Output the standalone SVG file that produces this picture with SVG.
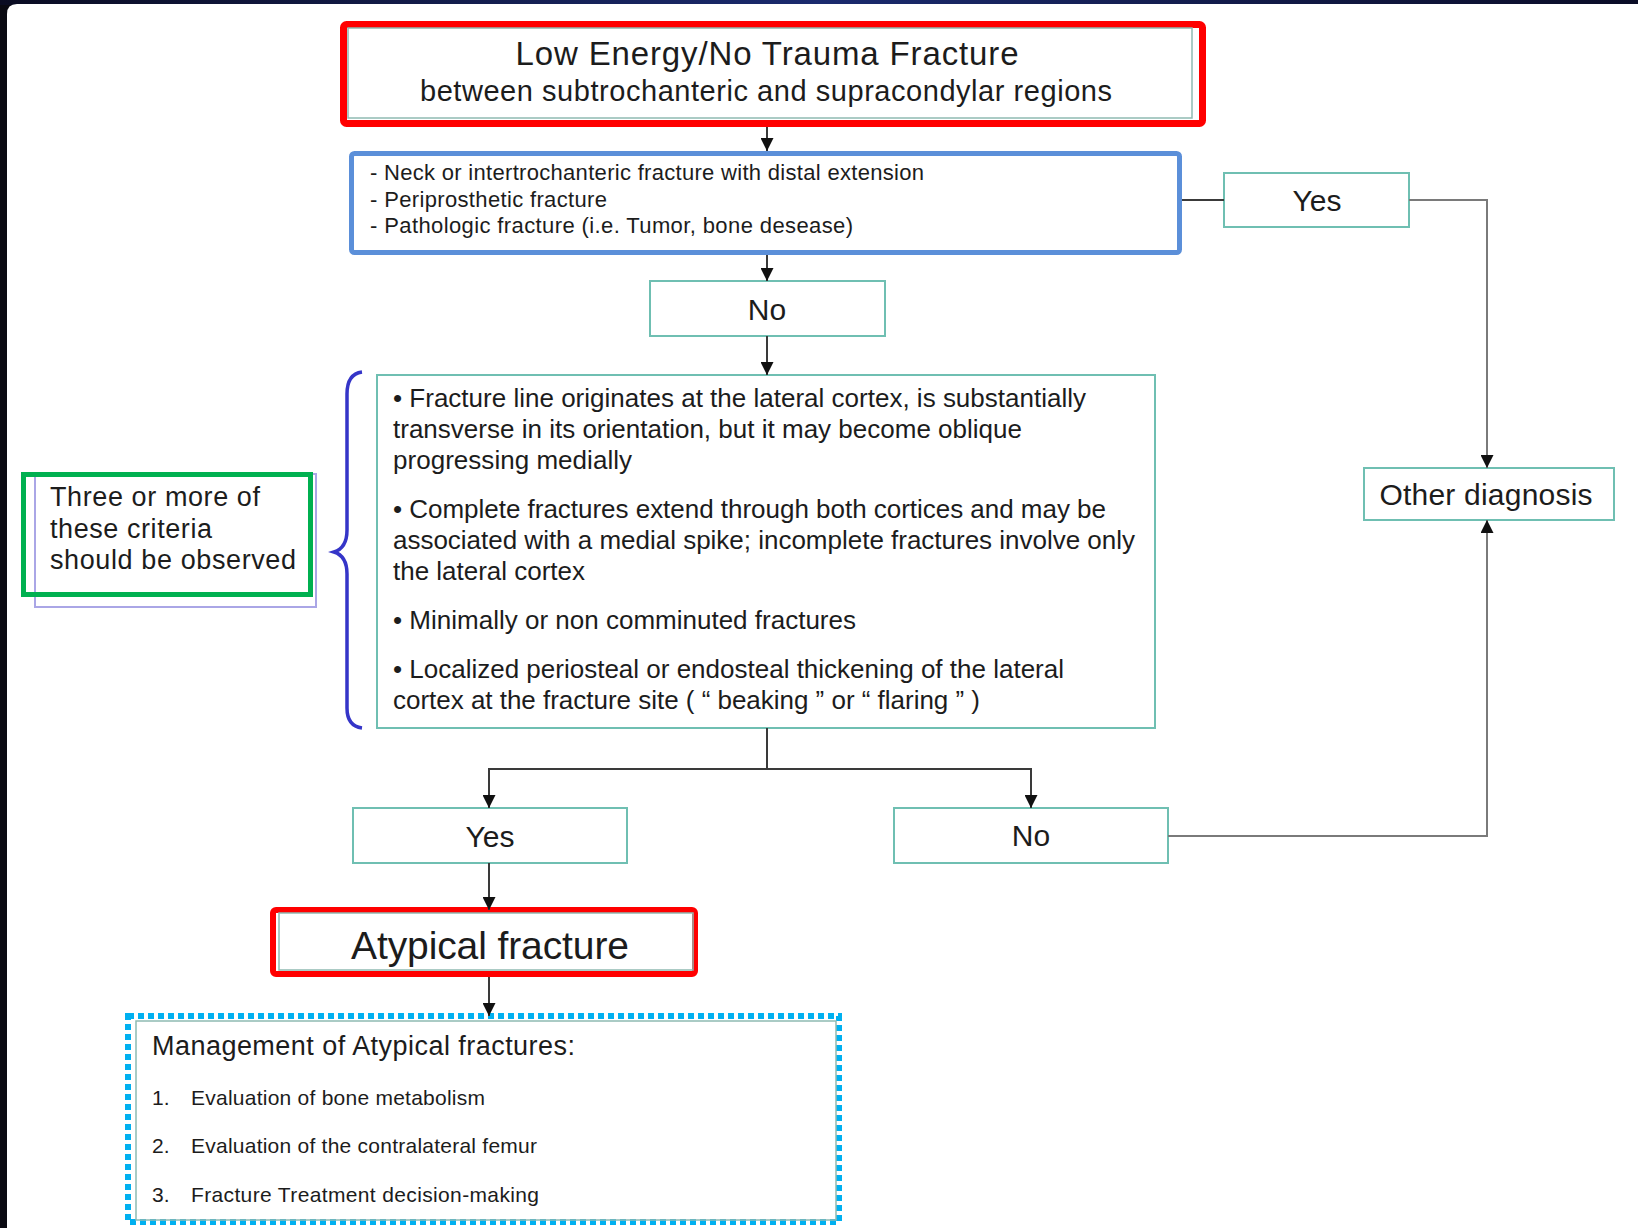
<svg xmlns="http://www.w3.org/2000/svg" width="1638" height="1228" viewBox="0 0 1638 1228">
<defs>
<linearGradient id="topband" x1="0" x2="1" y1="0" y2="0">
<stop offset="0" stop-color="#0a0c22"/><stop offset="0.5" stop-color="#1a2a6e"/><stop offset="1" stop-color="#0a0c26"/>
</linearGradient>
<marker id="arrow" markerUnits="userSpaceOnUse" markerWidth="13" markerHeight="13" viewBox="0 0 12 12" refX="12" refY="6" orient="auto">
<path d="M0,0 L12,6 L0,12 z" fill="#111"/>
</marker>
<style>
.t{font-family:"Liberation Sans",Arial,Helvetica,sans-serif;fill:#1c1c1c}
.m{text-anchor:middle}
.box{fill:#fff;stroke:#6fbfb2;stroke-width:2}
.inner{fill:none;stroke:#8fbab2;stroke-width:1.5}
.conn{fill:none;stroke:#3a3a3a;stroke-width:2}
.connl{fill:none;stroke:#7a7a7a;stroke-width:2}
</style>
</defs>

<rect width="1638" height="1228" fill="#0a0a12"/>
<rect x="0" y="0" width="1638" height="5" fill="url(#topband)"/>
<path d="M7,14 Q7,4 17,4 L1638,4 L1638,1228 L7,1228 Z" fill="#ffffff"/>

<g id="node-start">
<rect x="343.5" y="24.5" width="859" height="99" rx="3" fill="#fff" stroke="#ff0000" stroke-width="7"/>
<rect x="348" y="28" width="844" height="90" class="inner"/>
<text class="t m" x="767" y="65" font-size="33" textLength="503">Low Energy/No Trauma Fracture</text>
<text class="t m" x="766" y="101" font-size="29" textLength="692">between subtrochanteric and supracondylar regions</text>
</g>

<g id="node-exclusions">
<rect x="351.5" y="153.5" width="828" height="99" rx="3" fill="#fff" stroke="#5b8fd9" stroke-width="5"/>
<text class="t" x="370" y="180" font-size="22" textLength="554">- Neck or intertrochanteric fracture with distal extension</text>
<text class="t" x="370" y="207" font-size="22" textLength="237">- Periprosthetic fracture</text>
<text class="t" x="370" y="233" font-size="22" textLength="483">- Pathologic fracture (i.e. Tumor, bone desease)</text>
</g>

<g id="node-yes-top">
<rect x="1224" y="173" width="185" height="54" class="box"/>
<text class="t m" x="1317" y="211" font-size="30">Yes</text>
</g>

<g id="node-no-top">
<rect x="650" y="281" width="235" height="55" class="box"/>
<text class="t m" x="767" y="320" font-size="30">No</text>
</g>

<g id="node-criteria">
<rect x="377" y="375" width="778" height="353" class="box"/>
<text class="t" x="393" y="407" font-size="26" textLength="693">• Fracture line originates at the lateral cortex, is substantially</text>
<text class="t" x="393" y="438" font-size="26" textLength="629">transverse in its orientation, but it may become oblique</text>
<text class="t" x="393" y="469" font-size="26" textLength="239">progressing medially</text>
<text class="t" x="393" y="518" font-size="26" textLength="713">• Complete fractures extend through both cortices and may be</text>
<text class="t" x="393" y="549" font-size="26" textLength="742">associated with a medial spike; incomplete fractures involve only</text>
<text class="t" x="393" y="580" font-size="26" textLength="192">the lateral cortex</text>
<text class="t" x="393" y="629" font-size="26" textLength="463">• Minimally or non comminuted fractures</text>
<text class="t" x="393" y="678" font-size="26" textLength="671">• Localized periosteal or endosteal thickening of the lateral</text>
<text class="t" x="393" y="709" font-size="26" textLength="587">cortex at the fracture site ( “ beaking ” or “ flaring ” )</text>
</g>

<g id="node-brace">
<path d="M362,372 Q347,374 347,394 L347,530 Q347,548 334,552 Q347,556 347,574 L347,708 Q347,726 362,728" fill="none" stroke="#3535c8" stroke-width="3.5"/>
</g>

<g id="node-three">
<rect x="35" y="474" width="281" height="133" fill="#fff" stroke="#aaa6e6" stroke-width="2"/>
<rect x="23.5" y="474.5" width="287" height="120" fill="none" stroke="#00b050" stroke-width="5"/>
<text class="t" x="50" y="506" font-size="27" textLength="210">Three or more of</text>
<text class="t" x="50" y="538" font-size="27" textLength="162">these criteria</text>
<text class="t" x="50" y="569" font-size="27" textLength="246">should be observed</text>
</g>

<g id="node-other">
<rect x="1364" y="468" width="250" height="52" class="box"/>
<text class="t m" x="1486" y="505" font-size="30" textLength="213">Other diagnosis</text>
</g>

<g id="node-yes-bottom">
<rect x="353" y="808" width="274" height="55" class="box"/>
<text class="t m" x="490" y="847" font-size="30">Yes</text>
</g>

<g id="node-no-bottom">
<rect x="894" y="808" width="274" height="55" class="box"/>
<text class="t m" x="1031" y="846" font-size="30">No</text>
</g>

<g id="node-atypical">
<rect x="273" y="910" width="422" height="64" rx="3" fill="#fff" stroke="#ff0000" stroke-width="6"/>
<rect x="279" y="913" width="414" height="57" class="inner"/>
<text class="t m" x="490" y="959" font-size="39" textLength="278">Atypical fracture</text>
</g>

<g id="node-management">
<rect x="128" y="1016" width="711" height="206" fill="#fff" stroke="#00b0f0" stroke-width="6" stroke-dasharray="6 4"/>
<rect x="136" y="1021" width="700" height="199" class="inner"/>
<text class="t" x="152" y="1055" font-size="27" textLength="423">Management of Atypical fractures:</text>
<text class="t" x="152" y="1105" font-size="21">1.</text>
<text class="t" x="191" y="1105" font-size="21" textLength="294">Evaluation of bone metabolism</text>
<text class="t" x="152" y="1153" font-size="21">2.</text>
<text class="t" x="191" y="1153" font-size="21" textLength="346">Evaluation of the contralateral femur</text>
<text class="t" x="152" y="1202" font-size="21">3.</text>
<text class="t" x="191" y="1202" font-size="21" textLength="348">Fracture Treatment decision-making</text>
</g>

<g id="connectors">
<path class="conn" d="M767,127 V151" marker-end="url(#arrow)"/>
<path class="conn" d="M767,255 V281" marker-end="url(#arrow)"/>
<path class="conn" d="M767,336 V375" marker-end="url(#arrow)"/>
<path class="conn" d="M1182,200 H1224"/>
<path class="connl" d="M1409,200 H1487 V468" marker-end="url(#arrow)"/>
<path class="conn" d="M767,728 V769"/>
<path class="conn" d="M767,769 H489 V808" marker-end="url(#arrow)"/>
<path class="conn" d="M767,769 H1031 V808" marker-end="url(#arrow)"/>
<path class="conn" d="M489,863 V910" marker-end="url(#arrow)"/>
<path class="connl" d="M1168,836 H1487 V520" marker-end="url(#arrow)"/>
<path class="conn" d="M489,977 V1016" marker-end="url(#arrow)"/>
</g>
</svg>
